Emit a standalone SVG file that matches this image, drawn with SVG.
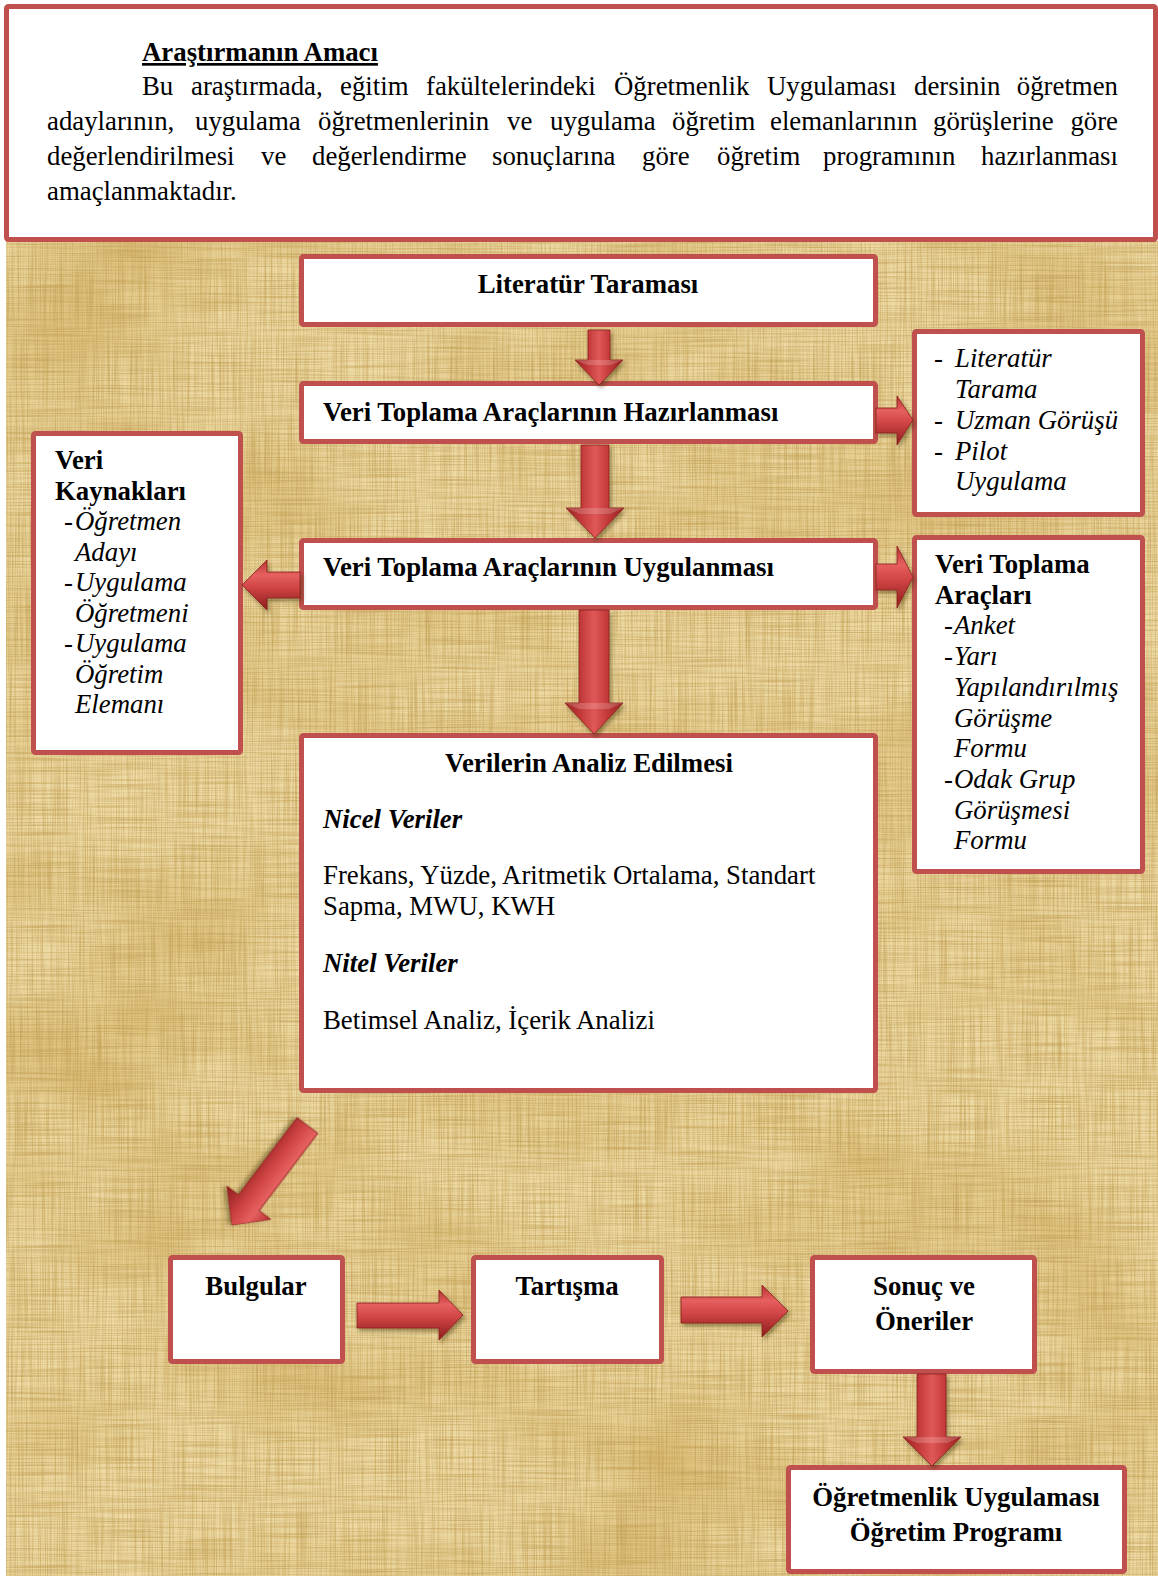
<svg xmlns="http://www.w3.org/2000/svg" width="1158" height="1576" viewBox="0 0 1158 1576">
<defs>
<style>
.box{fill:#ffffff;stroke:#c0504d;stroke-width:5}
.t{font-family:"Liberation Serif","Times New Roman",serif;font-size:26.8px;fill:#000}
.b{font-weight:bold}
.i{font-style:italic}
.c{text-anchor:middle}
.arr{stroke:#8a1f1f;stroke-width:0.8;filter:url(#sh)}
.av{fill:url(#gv)}
.ah{fill:url(#gh)}
.hl{fill:#ffffff;opacity:0.18}
</style>
<linearGradient id="gv" x1="0" y1="0" x2="1" y2="0">
<stop offset="0" stop-color="#9e2222"/>
<stop offset="0.28" stop-color="#c43a3a"/>
<stop offset="0.5" stop-color="#e05858"/>
<stop offset="0.72" stop-color="#c43a3a"/>
<stop offset="1" stop-color="#962020"/>
</linearGradient>
<linearGradient id="gh" x1="0" y1="0" x2="0" y2="1">
<stop offset="0" stop-color="#b53030"/>
<stop offset="0.3" stop-color="#e66060"/>
<stop offset="0.55" stop-color="#d04444"/>
<stop offset="1" stop-color="#8c1c1c"/>
</linearGradient>
<filter id="sh" x="-30%" y="-30%" width="160%" height="160%">
<feDropShadow dx="2" dy="3" stdDeviation="2" flood-color="#3a2a10" flood-opacity="0.45"/>
</filter>
<filter id="tex" x="0" y="0" width="1" height="1" color-interpolation-filters="sRGB">
<feTurbulence type="fractalNoise" baseFrequency="0.004 0.007" numOctaves="3" seed="7" result="big"/>
<feColorMatrix in="big" type="matrix" values="0 0 0 0 0.80  0 0 0 0 0.64  0 0 0 0 0.30  1.2 0 0 0 -0.5" result="blot"/>
<feTurbulence type="fractalNoise" baseFrequency="0.8 0.012" numOctaves="2" seed="3" result="vs"/>
<feColorMatrix in="vs" type="matrix" values="0 0 0 0 0.74  0 0 0 0 0.60  0 0 0 0 0.30  1.3 0 0 0 -0.5" result="vstr"/>
<feTurbulence type="fractalNoise" baseFrequency="0.012 0.8" numOctaves="2" seed="5" result="hs"/>
<feColorMatrix in="hs" type="matrix" values="0 0 0 0 0.74  0 0 0 0 0.60  0 0 0 0 0.30  1.3 0 0 0 -0.5" result="hstr"/>
<feMerge><feMergeNode in="SourceGraphic"/><feMergeNode in="blot"/><feMergeNode in="vstr"/><feMergeNode in="hstr"/></feMerge>
</filter>
</defs>

<rect x="0" y="0" width="1158" height="1576" fill="#ffffff"/>
<rect x="6" y="241" width="1152" height="1335" fill="#eedba6" filter="url(#tex)"/>

<g id="amac">
<rect class="box" x="6.5" y="6.5" width="1149" height="233" rx="2"/>
<text class="t b" x="142" y="61" text-decoration="underline">Araştırmanın Amacı</text>
<text class="t" y="95"><tspan x="142">Bu</tspan><tspan x="191">araştırmada,</tspan><tspan x="340">eğitim</tspan><tspan x="426">fakültelerindeki</tspan><tspan x="614">Öğretmenlik</tspan><tspan x="767">Uygulaması</tspan><tspan x="914">dersinin</tspan><tspan x="1118" text-anchor="end">öğretmen</tspan></text>
<text class="t" y="130"><tspan x="47">adaylarının,</tspan><tspan x="195">uygulama</tspan><tspan x="318">öğretmenlerinin</tspan><tspan x="507">ve</tspan><tspan x="550">uygulama</tspan><tspan x="672">öğretim</tspan><tspan x="770">elemanlarının</tspan><tspan x="933">görüşlerine</tspan><tspan x="1118" text-anchor="end">göre</tspan></text>
<text class="t" y="165"><tspan x="47">değerlendirilmesi</tspan><tspan x="261">ve</tspan><tspan x="312">değerlendirme</tspan><tspan x="492">sonuçlarına</tspan><tspan x="642">göre</tspan><tspan x="717">öğretim</tspan><tspan x="823">programının</tspan><tspan x="1118" text-anchor="end">hazırlanması</tspan></text>
<text class="t" x="47" y="200">amaçlanmaktadır.</text>
</g>

<g id="literatur">
<rect class="box" x="301.5" y="256.5" width="574" height="68" rx="2"/>
<text class="t b c" x="588" y="293">Literatür Taraması</text>
</g>

<g id="hazirlanmasi">
<rect class="box" x="301.5" y="383.5" width="574" height="58" rx="2"/>
<text class="t b" x="323" y="421">Veri Toplama Araçlarının Hazırlanması</text>
</g>

<g id="uygulanmasi">
<rect class="box" x="301.5" y="540.5" width="574" height="67" rx="2"/>
<text class="t b" x="323" y="576">Veri Toplama Araçlarının Uygulanması</text>
</g>

<g id="analiz">
<rect class="box" x="301.5" y="735.5" width="574" height="355" rx="2"/>
<text class="t b c" x="589" y="772">Verilerin Analiz Edilmesi</text>
<text class="t b i" x="323" y="828">Nicel Veriler</text>
<text class="t" x="323" y="884">Frekans, Yüzde, Aritmetik Ortalama, Standart</text>
<text class="t" x="323" y="915">Sapma, MWU, KWH</text>
<text class="t b i" x="323" y="972">Nitel Veriler</text>
<text class="t" x="323" y="1029">Betimsel Analiz, İçerik Analizi</text>
</g>

<g id="veri-kaynaklari">
<rect class="box" x="33.5" y="433.5" width="207" height="319" rx="2"/>
<text class="t b" x="55" y="469">Veri</text>
<text class="t b" x="55" y="499.5">Kaynakları</text>
<text class="t" x="64" y="530">-<tspan class="i" x="75">Öğretmen</tspan></text>
<text class="t i" x="75" y="560.5">Adayı</text>
<text class="t" x="64" y="591">-<tspan class="i" x="75">Uygulama</tspan></text>
<text class="t i" x="75" y="621.5">Öğretmeni</text>
<text class="t" x="64" y="652">-<tspan class="i" x="75">Uygulama</tspan></text>
<text class="t i" x="75" y="682.5">Öğretim</text>
<text class="t i" x="75" y="713">Elemanı</text>
</g>

<g id="hazirlik-yontemleri">
<rect class="box" x="914.5" y="331.5" width="228" height="183" rx="2"/>
<text class="t" x="934" y="367">-<tspan class="i" x="955">Literatür</tspan></text>
<text class="t i" x="955" y="398">Tarama</text>
<text class="t" x="934" y="429">-<tspan class="i" x="955">Uzman Görüşü</tspan></text>
<text class="t" x="934" y="460">-<tspan class="i" x="955">Pilot</tspan></text>
<text class="t i" x="955" y="490">Uygulama</text>
</g>

<g id="veri-toplama-araclari">
<rect class="box" x="914.5" y="537.5" width="228" height="334" rx="2"/>
<text class="t b" x="935" y="573">Veri Toplama</text>
<text class="t b" x="935" y="604">Araçları</text>
<text class="t" x="944" y="634">-<tspan class="i" x="954">Anket</tspan></text>
<text class="t" x="944" y="665">-<tspan class="i" x="954">Yarı</tspan></text>
<text class="t i" x="954" y="696">Yapılandırılmış</text>
<text class="t i" x="954" y="727">Görüşme</text>
<text class="t i" x="954" y="757">Formu</text>
<text class="t" x="944" y="788">-<tspan class="i" x="954">Odak Grup</tspan></text>
<text class="t i" x="954" y="819">Görüşmesi</text>
<text class="t i" x="954" y="849">Formu</text>
</g>

<g id="bulgular">
<rect class="box" x="170.5" y="1257.5" width="172" height="104" rx="2"/>
<text class="t b c" x="256" y="1295">Bulgular</text>
</g>

<g id="tartisma">
<rect class="box" x="473.5" y="1257.5" width="188" height="104" rx="2"/>
<text class="t b c" x="567" y="1295">Tartışma</text>
</g>

<g id="sonuc">
<rect class="box" x="812.5" y="1257.5" width="222" height="114" rx="2"/>
<text class="t b c" x="924" y="1295">Sonuç ve</text>
<text class="t b c" x="924" y="1330">Öneriler</text>
</g>

<g id="program">
<rect class="box" x="788.5" y="1467.5" width="336" height="104" rx="2"/>
<text class="t b c" x="956" y="1506">Öğretmenlik Uygulaması</text>
<text class="t b c" x="956" y="1541">Öğretim Programı</text>
</g>

<g id="connectors">
<path class="arr av" d="M588,330 H610 V360 H623 L599,385 L575,360 H588 Z"/>
<path class="hl" d="M575,360 H623 L611,365 H587 Z"/>
<path class="arr av" d="M581,445 H609 V508 H624 L595,538 L566,508 H581 Z"/>
<path class="hl" d="M566,508 H624 L610,514 H580 Z"/>
<path class="arr av" d="M579,610 H609 V703 H623 L594,734 L565,703 H579 Z"/>
<path class="hl" d="M565,703 H623 L609,709 H579 Z"/>
<path class="arr ah" d="M876,408 H897 V396 L913,420 L897,445 V433 H876 Z"/>
<path class="arr ah" d="M876,564 H897 V546 L913,577 L897,608 V590 H876 Z"/>
<path class="arr ah" d="M300,572 H267 V560 L242,585 L267,610 V598 H300 Z"/>
<g transform="translate(307.5,1125.5) rotate(127.2)">
<path class="arr ah" d="M0,-13 H97 V-27.5 L125,0 L97,27.5 V13 H0 Z"/>
</g>
<path class="arr ah" d="M357,1303 H439 V1290 L463,1315 L439,1340 V1328 H357 Z"/>
<path class="arr ah" d="M681,1297 H762 V1285 L788,1311 L762,1337 V1323 H681 Z"/>
<path class="arr av" d="M917,1374 H946 V1437 H961 L932,1466 L903,1437 H917 Z"/>
<path class="hl" d="M903,1437 H961 L947,1443 H917 Z"/>
</g>
</svg>
